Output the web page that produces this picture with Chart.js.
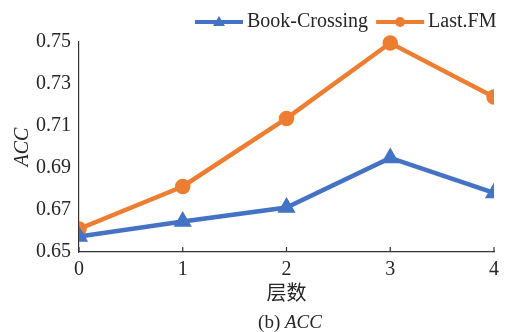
<!DOCTYPE html>
<html>
<head>
<meta charset="utf-8">
<script src="https://cdn.jsdelivr.net/npm/chart.js@4"></script>
<style>
    html, body { margin: 0; padding: 0; background: #fff; }
    #wrap { width: 505px; height: 332px; }
</style>
</head>
<body>
<div id="wrap"><canvas id="accChart" width="505" height="332"></canvas></div>
<script>
const layers = ['0', '1', '2', '3', '4'];
const bookCrossing = [0.6574, 0.6645, 0.6712, 0.6948, 0.6781];
const lastFM = [0.6610, 0.6812, 0.7136, 0.7495, 0.7238];
const yTicks = [0.65, 0.67, 0.69, 0.71, 0.73, 0.75];

const SERIF = "'Liberation Serif', 'Times New Roman', 'Noto Sans CJK SC', serif";
const TEXT = '#262626';

// legend drawn by hand: line sample with marker, Excel style
const legendAndCaption = {
    id: 'legendAndCaption',
    afterDraw(chart) {
        const ctx = chart.ctx;
        ctx.save();
        ctx.font = `20px ${SERIF}`;
        ctx.textBaseline = 'middle';
        let x = 195;
        const y = 22;
        chart.data.datasets.forEach(ds => {
            ctx.strokeStyle = ds.borderColor;
            ctx.lineWidth = 4;
            ctx.beginPath();
            ctx.moveTo(x, y);
            ctx.lineTo(x + 48, y);
            ctx.stroke();
            ctx.fillStyle = ds.borderColor;
            ctx.beginPath();
            if (ds.pointStyle === 'triangle') {
                ctx.moveTo(x + 24, y - 6);
                ctx.lineTo(x + 30, y + 4);
                ctx.lineTo(x + 18, y + 4);
                ctx.closePath();
            } else {
                ctx.arc(x + 24, y, 5, 0, Math.PI * 2);
            }
            ctx.fill();
            ctx.fillStyle = TEXT;
            ctx.textAlign = 'left';
            ctx.fillText(ds.label, x + 52, y);
            x += 52 + ctx.measureText(ds.label).width + 8;
        });

        // inward tick marks on x axis
        const xs = chart.scales.x;
        const bottom = chart.chartArea.bottom;
        ctx.strokeStyle = '#333';
        ctx.lineWidth = 1.2;
        layers.forEach((l, i) => {
            const px = xs.getPixelForValue(i);
            ctx.beginPath();
            ctx.moveTo(px, bottom);
            ctx.lineTo(px, bottom - 5);
            ctx.stroke();
        });

        // caption "(b) ACC"
        ctx.textBaseline = 'middle';
        ctx.font = `19px ${SERIF}`;
        const a = '(b) ';
        const wa = ctx.measureText(a).width;
        ctx.font = `italic 19px ${SERIF}`;
        const wb = ctx.measureText('ACC').width;
        const cx = 290 - (wa + wb) / 2;
        ctx.fillStyle = TEXT;
        ctx.textAlign = 'left';
        ctx.font = `19px ${SERIF}`;
        ctx.fillText(a, cx, 323);
        ctx.font = `italic 19px ${SERIF}`;
        ctx.fillText('ACC', cx + wa, 323);
        ctx.restore();
    }
};

const edgeClip = { left: 0, right: 0, top: 12, bottom: 0 };

new Chart(document.getElementById('accChart'), {
    type: 'line',
    data: {
        labels: layers,
        datasets: [
            {
                label: 'Book-Crossing',
                data: bookCrossing,
                borderColor: '#4472C4',
                backgroundColor: '#4472C4',
                borderWidth: 4.5,
                pointStyle: 'triangle',
                pointRadius: 6,
                tension: 0,
                clip: edgeClip
            },
            {
                label: 'Last.FM',
                data: lastFM,
                borderColor: '#ED7D31',
                backgroundColor: '#ED7D31',
                borderWidth: 4.5,
                pointStyle: 'circle',
                pointRadius: 5.5,
                tension: 0,
                clip: edgeClip
            }
        ]
    },
    options: {
        responsive: false,
        animation: false,
        devicePixelRatio: 1,
        layout: { padding: { top: 42, right: 11, left: 0, bottom: 0 } },
        plugins: {
            legend: { display: false },
            tooltip: { enabled: false }
        },
        scales: {
            x: {
                offset: false,
                border: { display: true, color: '#333', width: 1.2 },
                grid: { display: false, drawTicks: false },
                ticks: {
                    color: TEXT,
                    padding: 6,
                    maxRotation: 0,
                    font: { family: SERIF, size: 20 }
                },
                title: {
                    display: true,
                    text: '层数',
                    color: TEXT,
                    padding: { top: 0, bottom: 25 },
                    font: { family: SERIF, size: 20 }
                },
                afterFit: (scale) => { scale.height = 80; }
            },
            y: {
                min: 0.65,
                max: 0.75,
                border: { display: true, color: '#333', width: 1.2 },
                grid: { display: false, drawTicks: false },
                afterBuildTicks: (scale) => { scale.ticks = yTicks.map(v => ({ value: v })); },
                ticks: {
                    color: TEXT,
                    padding: 8,
                    font: { family: SERIF, size: 20 },
                    callback: (v) => v.toFixed(2)
                },
                title: {
                    display: true,
                    text: 'ACC',
                    color: TEXT,
                    padding: { top: 11, bottom: 0 },
                    font: { family: SERIF, size: 20, style: 'italic' }
                },
                afterFit: (scale) => { scale.width = 79; }
            }
        }
    },
    plugins: [legendAndCaption]
});
</script>
</body>
</html>
